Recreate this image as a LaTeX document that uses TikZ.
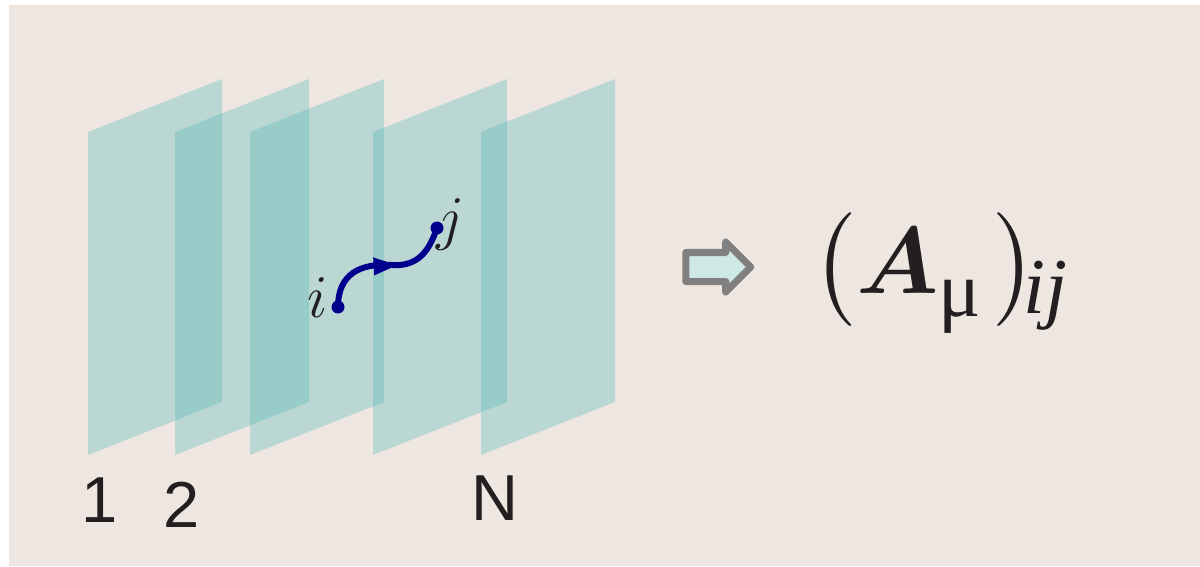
\documentclass[tikz,border=0pt]{standalone}
\usepackage{amsmath}
\usepackage{fontspec}
\newfontfamily\labelfont{Liberation Sans}
\newfontfamily\greekfont{Liberation Serif}
\usetikzlibrary{arrows.meta, shapes.arrows, decorations.markings}
\definecolor{bgbeige}{RGB}{238,231,225}
\definecolor{planeteal}{RGB}{79,182,183}
\definecolor{pathnavy}{RGB}{0,0,140}
\definecolor{arrowgray}{RGB}{128,128,128}
\definecolor{arrowfill}{RGB}{206,232,229}
\definecolor{inkblack}{RGB}{35,31,32}

\begin{document}
\begin{tikzpicture}[
  x=0.02cm, y=0.02cm,
  plane/.style={fill=planeteal, fill opacity=0.32},
  dot/.style={circle, fill=pathnavy, inner sep=0pt, minimum size=0.26cm},
  link/.style={pathnavy, line width=3.4pt, line cap=round,
    decoration={markings, mark=at position 0.6 with {\arrow{Triangle[length=0.5cm, width=0.32cm]}}},
    postaction={decorate}},
  idx/.style={font=\fontsize{17.28}{20}\selectfont, scale=2, text=inkblack, anchor=base, inner sep=0pt},
  num/.style={font=\labelfont\fontsize{37}{44}\selectfont, text=inkblack, anchor=base, inner sep=0pt},
  hollow/.style={single arrow, draw=arrowgray, fill=arrowfill, line width=4pt,
    line join=round, minimum height=1.3cm, inner sep=0pt, inner ysep=0.22cm,
    single arrow head extend=0.21cm}
]
\useasboundingbox (0,0) rectangle (1200,566);
\fill[bgbeige] (9,0) rectangle (1200,561);

% the N sheets
\foreach \x in {88,175,250,373,481}
  \fill[plane] (\x,111) -- (\x,434) -- (\x+134,487) -- (\x+134,164) -- cycle;

\node[dot] (pi) at (338,259) {};
\node[dot] (pj) at (437,338) {};
\node[idx] (li) at (318,249) {$i$};
\node[idx] (lj) at (451,328) {$j$};
\draw[link] (pi.center) .. controls (338,292) and (360,303) .. (392,301)
  .. controls (420,299) and (430,318) .. (pj.center);

\node[num] (l1) at (100,44) {1};
\node[num] (l2) at (182,39) {2};
\node[num] (lN) at (495,46) {N};

\node[hollow] (to) at (711,299) {};
\node[anchor=base west, inner sep=0pt, text=inkblack, font=\fontsize{24.88}{28}\selectfont, scale=2.17]
  (amu) at (812,273) {$\bigl(\boldsymbol{A}_{\text{\greekfont\raisebox{-2.5pt}{μ}}}\mkern2mu\bigr)_{\mkern-3mu\text{\greekfont\itshape\raisebox{4.5pt}{ij}}}$};
\end{tikzpicture}
\end{document}
